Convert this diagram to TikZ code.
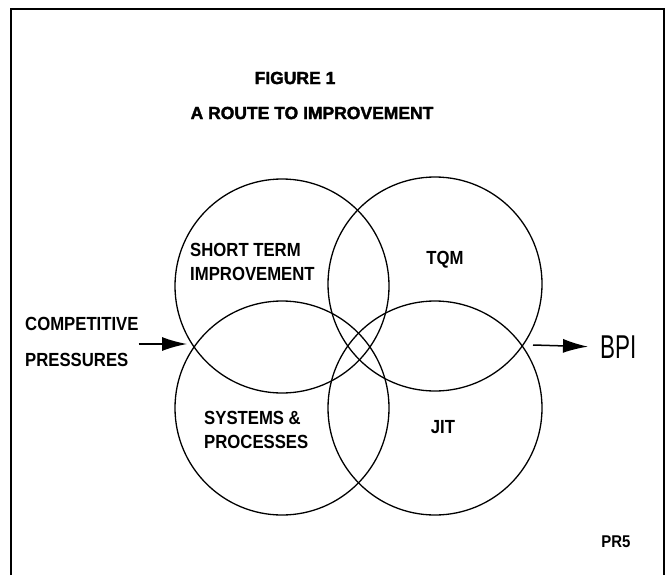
\documentclass[tikz,border=0pt]{standalone}
\usepackage{fontspec}
\setmainfont{Liberation Sans}
\newfontfamily\labelfont[FakeStretch=0.88]{Liberation Sans Bold}
\newfontfamily\bpifont[FakeStretch=0.68]{Liberation Sans}
\newfontfamily\titlefont[FakeBold=2]{Liberation Sans Bold}
\usetikzlibrary{arrows.meta}
\tikzset{
  ring/.style={circle, draw, line width=1.3pt, minimum size=214pt, inner sep=0pt},
  lbl/.style={inner sep=0pt, align=left, font=\labelfont\fontsize{19}{24}\selectfont},
  ttl/.style={inner sep=0pt, font=\titlefont\fontsize{17.5}{20}\selectfont},
  push/.style={line width=1.5pt, -{Latex[length=25pt,width=14pt]}}
}

\begin{document}
\begin{tikzpicture}[x=1pt,y=-1pt]
    \useasboundingbox (0,0) rectangle (671,575);

    % frame, open at the foot
    \draw[line width=2pt] (11,575) -- (11,9) -- (664,9) -- (664,575);

    \node[ttl] (fig) at (295,78) {FIGURE 1};
    \node[ttl] (route) at (312,113) {A ROUTE TO IMPROVEMENT};

    % the four overlapping rings
    \node[ring] (short) at (282,286) {};
    \node[ring] (tqm) at (435,284) {};
    \node[ring] (sys) at (282,408) {};
    \node[ring] (jit) at (435,408) {};

    \node[lbl, anchor=west] (shortlbl) at (190,262) {SHORT TERM\\IMPROVEMENT};
    \node[lbl] (tqmlbl) at (445,260) {TQM};
    \node[lbl, anchor=west] (syslbl) at (204,430) {SYSTEMS \&\\PROCESSES};
    \node[lbl] (jitlbl) at (443,427) {JIT};

    \node[lbl, anchor=west] (press) at (25,342) {COMPETITIVE\\[12pt]PRESSURES};
    \coordinate (pressin) at (187,344);
    \draw[push] (press.east) ++(0,2) -- (pressin);

    \coordinate (bpiout) at (533,345);
    \node[inner sep=0pt, anchor=west, font=\bpifont\fontsize{33}{36}\selectfont] (bpi) at (600,347) {BPI};
    \draw[push, shorten >=12pt] (bpiout) -- (bpi.west);

    \node[lbl, font=\labelfont\fontsize{17}{20}\selectfont] (pr) at (616,542) {PR5};
\end{tikzpicture}
\end{document}
